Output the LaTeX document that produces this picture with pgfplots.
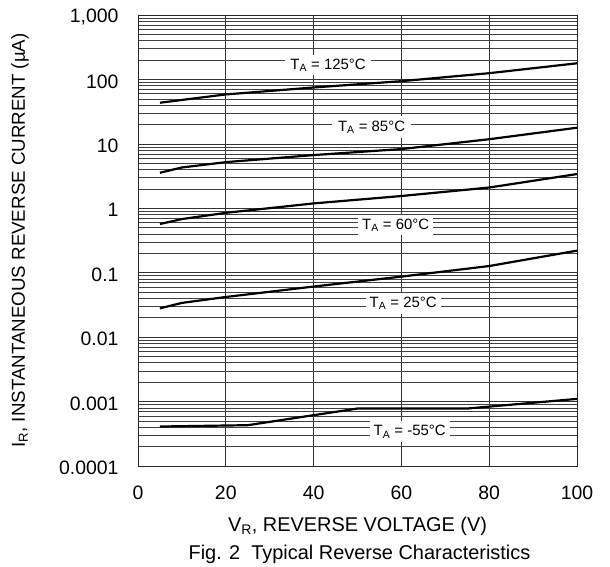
\documentclass[border=0pt]{standalone}
\usepackage{pgfplots}
\pgfplotsset{compat=1.18}
\usepackage{fontspec}
\setmainfont{Liberation Sans}
\newcommand{\bigf}{\fontsize{20}{24}\selectfont}
\newcommand{\tickf}{\fontsize{19.5}{23}\selectfont}
\newcommand{\ylabf}{\fontsize{18.8}{22}\selectfont}
\newcommand{\tagf}{\fontsize{15}{18}\selectfont}
\tikzset{curve/.style={black, line width=2.2bp, no markers}}

\begin{document}
\begin{tikzpicture}
\begin{axis}[
  scale only axis,
  width=439bp, height=451bp,
  xmin=0, xmax=100,
  ymode=log, ymin=1e-4, ymax=1e3,
  xtick={0,20,40,60,80,100},
  xticklabels={0,20,40,60,80,100},
  ytick={1e-4,1e-3,1e-2,1e-1,1,10,100,1000},
  yticklabels={0.0001,0.001,0.01,0.1,1,10,100,{1,000}},
  minor ytick={2e-4,3e-4,4e-4,5e-4,6e-4,7e-4,8e-4,9e-4,
               2e-3,3e-3,4e-3,5e-3,6e-3,7e-3,8e-3,9e-3,
               2e-2,3e-2,4e-2,5e-2,6e-2,7e-2,8e-2,9e-2,
               0.2,0.3,0.4,0.5,0.6,0.7,0.8,0.9,
               2,3,4,5,6,7,8,9,
               20,30,40,50,60,70,80,90,
               200,300,400,500,600,700,800,900},
  xmajorgrids, ymajorgrids, yminorgrids,
  major grid style={black!80, line width=0.6bp},
  minor grid style={black!75, line width=0.6bp},
  major tick length=0pt, minor tick length=0pt,
  axis line style={black!85, line width=0.9bp},
  tick label style={font=\tickf},
  xticklabel style={yshift=-16bp},
  yticklabel style={xshift=-16bp, yshift=-2bp},
]
% T_A = 125 C
\addplot[curve] coordinates {(5,43.5) (10,48) (20,58.5) (40,75) (60,94) (80,125) (100,178)};
% T_A = 85 C
\addplot[curve] coordinates {(5,3.56) (10,4.3) (20,5.2) (40,6.7) (60,8.3) (80,11.8) (100,17.8)};
% T_A = 60 C
\addplot[curve] coordinates {(5,0.57) (10,0.68) (20,0.85) (40,1.19) (60,1.55) (80,2.1) (100,3.4)};
% T_A = 25 C
\addplot[curve] coordinates {(5,0.028) (10,0.034) (20,0.042) (40,0.061) (60,0.087) (80,0.127) (100,0.22)};
% T_A = -55 C
\addplot[curve] coordinates {(5,0.00041) (25,0.00043) (50,0.00078) (75,0.00078) (100,0.0011)};

\node[fill=white, inner xsep=5bp, inner ysep=4bp, font=\tagf] at (axis cs:43.3,167) {T\textsubscript{A} = 125°C};
\node[fill=white, inner xsep=6bp, inner ysep=5bp, font=\tagf] at (axis cs:53.2,18.3) {T\textsubscript{A} = 85°C};
\node[fill=white, inner xsep=4bp, inner ysep=4bp, font=\tagf] at (axis cs:58.7,0.551) {T\textsubscript{A} = 60°C};
\node[fill=white, inner xsep=4bp, inner ysep=4bp, font=\tagf] at (axis cs:60.4,0.0335) {T\textsubscript{A} = 25°C};
\node[fill=white, inner xsep=4bp, inner ysep=4bp, font=\tagf] at (axis cs:61.9,0.000341) {T\textsubscript{A} = -55°C};

\coordinate (sw) at (rel axis cs:0,0);
\coordinate (ne) at (rel axis cs:1,1);
\coordinate (bc) at (rel axis cs:0.5,0);
\coordinate (lc) at (rel axis cs:0,0.5);
\end{axis}
\node[font=\bigf] at ([yshift=-60bp]bc) {V\textsubscript{R}, REVERSE VOLTAGE (V)};
\node[font=\bigf] at ([xshift=2bp,yshift=-88bp]bc) {Fig. 2\ \ Typical Reverse Characteristics};
\node[font=\ylabf, rotate=90] at ([xshift=-118bp]lc) {I\textsubscript{R}, INSTANTANEOUS REVERSE CURRENT (µA)};
\pgfresetboundingbox
\path ([xshift=-138bp,yshift=-101bp]sw) rectangle ([xshift=33bp,yshift=15bp]ne);
\end{tikzpicture}
\end{document}
